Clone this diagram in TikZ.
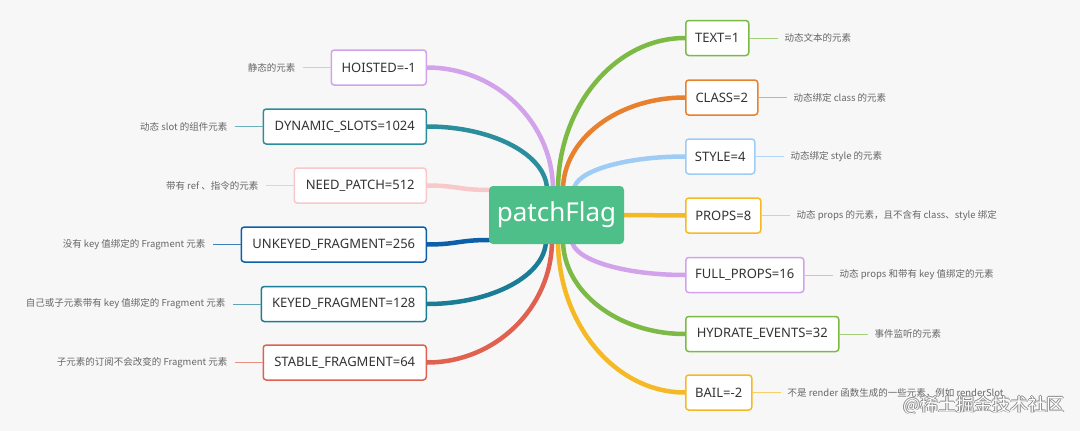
\documentclass[tikz,border=0pt]{standalone}
\usepackage{fontspec}
\setmainfont{Noto Sans}
\newfontfamily\cjk{Noto Sans CJK SC}
\usetikzlibrary{calc}
\definecolor{bgc}{HTML}{F7F7F7}
\definecolor{txt}{HTML}{333333}
\definecolor{notec}{HTML}{666666}
\definecolor{cgreen}{HTML}{4EBF89}
\definecolor{lgreen}{HTML}{7CBA45}
\definecolor{orng}{HTML}{E8812D}
\definecolor{lblue}{HTML}{9ECCF5}
\definecolor{yell}{HTML}{F6B926}
\definecolor{purp}{HTML}{D2A3EB}
\definecolor{teala}{HTML}{2B8E9C}
\definecolor{tealb}{HTML}{1B7C96}
\definecolor{pink}{HTML}{F8C8CA}
\definecolor{dblue}{HTML}{0E5FA9}
\definecolor{redc}{HTML}{E0614F}
\pgfdeclarelayer{bgl}
\pgfsetlayers{bgl,main}
\newcommand\branchto[3]{%
  \draw[branch,#1] (#2) .. controls ($(#2)!0.55!(#2|-#3)$) and ($(#3)!0.55!(#2|-#3)$) .. (#3);}
\begin{document}
\begin{tikzpicture}[x=1pt,y=-1pt,
  box/.style={draw, line width=1.5pt, rounded corners=3pt, fill=white, minimum height=35pt, inner xsep=0pt, font=\fontsize{13}{15}\selectfont, text=txt},
  note/.style={inner xsep=7pt, inner ysep=2pt, font=\cjk\fontsize{9.5}{11}\selectfont, text=notec},
  branch/.style={line width=4.5pt, line cap=round},
  twig/.style={line width=1pt}]
\begin{pgfonlayer}{bgl}
\fill[bgc] (0,0) rectangle (1080,431);
\end{pgfonlayer}
\useasboundingbox (0,0) rectangle (1080,431);

% centre
\node[fill=cgreen, rounded corners=4pt, minimum width=135pt, minimum height=58pt, inner sep=0pt, text=white, font=\fontsize{26}{30}\selectfont] (c) at (556.5,215) {patchFlag};

% right nodes
\node[box, draw=lgreen, minimum width=63pt, anchor=west] (text) at (685,38) {TEXT=1};
\node[box, draw=orng, minimum width=72pt, anchor=west] (class) at (685,97.5) {CLASS=2};
\node[box, draw=lblue, minimum width=69pt, anchor=west] (style) at (685,156.5) {STYLE=4};
\node[box, draw=yell, minimum width=75pt, anchor=west] (props) at (685,215.5) {PROPS=8};
\node[box, draw=purp, minimum width=118pt, anchor=west] (full) at (685,275) {FULL\_PROPS=16};
\node[box, draw=lgreen, minimum width=153pt, anchor=west] (hydr) at (685,334) {HYDRATE\_EVENTS=32};
\node[box, draw=yell, minimum width=66pt, anchor=west] (bail) at (685,392.5) {BAIL=-2};

% left nodes
\node[box, draw=purp, minimum width=95pt, anchor=east] (hoist) at (427,67.5) {HOISTED=-1};
\node[box, draw=teala, minimum width=163pt, anchor=east] (dyn) at (427,126.5) {DYNAMIC\_SLOTS=1024};
\node[box, draw=pink, minimum width=132pt, anchor=east] (need) at (427,185.5) {NEED\_PATCH=512};
\node[box, draw=dblue, minimum width=185pt, anchor=east] (unk) at (427,244.5) {UNKEYED\_FRAGMENT=256};
\node[box, draw=tealb, minimum width=165pt, anchor=east] (key) at (427,304) {KEYED\_FRAGMENT=128};
\node[box, draw=redc, minimum width=163pt, anchor=east] (stab) at (427,362.5) {STABLE\_FRAGMENT=64};

% branch start points
\coordinate (st1) at (558,190);
\coordinate (st2) at (563,190);
\coordinate (st3) at (574,190);
\coordinate (sb1) at (572,240);
\coordinate (sb2) at (563,240);
\coordinate (sb3) at (558,240);
\coordinate (lt1) at (553,190);
\coordinate (lt2) at (547,190);
\coordinate (lb1) at (546,240);
\coordinate (lb2) at (552,240);

\begin{pgfonlayer}{bgl}
\branchto{purp}{lt1}{hoist.east}
\branchto{teala}{lt2}{dyn.east}
\draw[branch,pink] (c.west) ++(0,-25) coordinate (np) .. controls ($(np)+(-30,0)$) and ($(need.east)+(30,0)$) .. (need.east);
\draw[branch,dblue] (c.west) ++(0,25) coordinate (uk) .. controls ($(uk)+(-30,0)$) and ($(unk.east)+(30,0)$) .. (unk.east);
\branchto{tealb}{lb1}{key.east}
\branchto{redc}{lb2}{stab.east}
\branchto{lgreen}{st1}{text.west}
\branchto{orng}{st2}{class.west}
\branchto{lblue}{st3}{style.west}
\draw[branch,yell] (c.east) -- (props.west);
\branchto{purp}{sb1}{full.west}
\branchto{lgreen}{sb2}{hydr.west}
\branchto{yell}{sb3}{bail.west}
\end{pgfonlayer}

% right notes
\node[note, anchor=west] (ntext) at ([xshift=28pt]text.east) {动态文本的元素};
\node[note, anchor=west] (nclass) at ([xshift=28pt]class.east) {动态绑定 class 的元素};
\node[note, anchor=west] (nstyle) at ([xshift=28pt]style.east) {动态绑定 style 的元素};
\node[note, anchor=west] (nprops) at ([xshift=28pt]props.east) {动态 props 的元素，且不含有 class、style 绑定};
\node[note, anchor=west] (nfull) at ([xshift=28pt]full.east) {动态 props 和带有 key 值绑定的元素};
\node[note, anchor=west] (nhydr) at ([xshift=28pt]hydr.east) {事件监听的元素};
\node[note, anchor=west] (nbail) at ([xshift=28pt]bail.east) {不是 render 函数生成的一些元素，例如 renderSlot};
\draw[twig, lgreen!70] (text.east) -- (ntext.west);
\draw[twig, orng!70] (class.east) -- (nclass.west);
\draw[twig, lblue!80] (style.east) -- (nstyle.west);
\draw[twig, yell!70] (props.east) -- (nprops.west);
\draw[twig, purp!80] (full.east) -- (nfull.west);
\draw[twig, lgreen!70] (hydr.east) -- (nhydr.west);
\draw[twig, yell!70] (bail.east) -- (nbail.west);

% left notes
\node[note, anchor=east] (nhoist) at ([xshift=-28pt]hoist.west) {静态的元素};
\node[note, anchor=east] (ndyn) at ([xshift=-28pt]dyn.west) {动态 slot 的组件元素};
\node[note, anchor=east] (nneed) at ([xshift=-28pt]need.west) {带有 ref 、指令的元素};
\node[note, anchor=east] (nunk) at ([xshift=-28pt]unk.west) {没有 key 值绑定的 Fragment 元素};
\node[note, anchor=east] (nkey) at ([xshift=-28pt]key.west) {自己或子元素带有 key 值绑定的 Fragment 元素};
\node[note, anchor=east] (nstab) at ([xshift=-28pt]stab.west) {子元素的订阅不会改变的 Fragment 元素};
\draw[twig, purp!70] (hoist.west) -- (nhoist.east);
\draw[twig, teala!70] (dyn.west) -- (ndyn.east);
\draw[twig, pink] (need.west) -- (nneed.east);
\draw[twig, dblue!80] (unk.west) -- (nunk.east);
\draw[twig, tealb!70] (key.west) -- (nkey.east);
\draw[twig, redc!70] (stab.west) -- (nstab.east);

% watermark
\foreach \dx/\dy [count=\i] in {0.7/0,-0.7/0,0/0.7,0/-0.7}
  \node[font=\cjk\fontsize{18}{20}\selectfont, text=black!45] (wmo\i) at (984+\dx,405+\dy) {@稀土掘金技术社区};
\node[font=\cjk\fontsize{18}{20}\selectfont, text=white] (wm) at (984,405) {@稀土掘金技术社区};
\end{tikzpicture}
\end{document}
